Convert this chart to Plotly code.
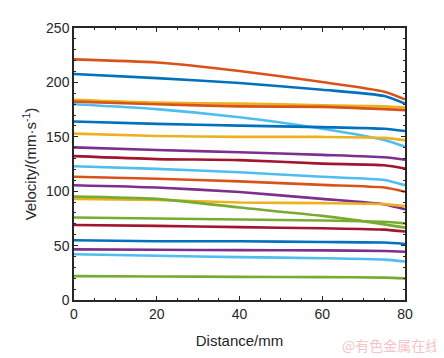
import plotly.graph_objects as go

distance = [0, 20, 40, 60, 75, 80]

s01 = [221.2, 218.3, 210.5, 200.3, 191.5, 184.4]
s02 = [207.7, 203.9, 199.4, 193.3, 187.5, 180.5]
s03 = [184.1, 181.4, 180.5, 179.0, 178.0, 176.9]
s04 = [182.3, 179.9, 178.0, 177.5, 175.4, 174.5]
s05 = [179.9, 175.4, 167.9, 157.4, 147.0, 140.9]
s06 = [164.0, 161.9, 160.3, 158.9, 157.4, 155.3]
s07 = [152.9, 150.8, 149.9, 149.9, 149.0, 146.9]
s08 = [140.3, 137.9, 135.8, 133.4, 131.2, 128.9]
s09 = [132.2, 129.5, 128.6, 125.3, 123.8, 120.8]
s10 = [122.9, 120.5, 117.4, 113.3, 110.3, 105.5]
s11 = [113.3, 111.5, 109.0, 105.8, 103.4, 99.5]
s12 = [105.5, 103.4, 99.2, 92.9, 87.9, 83.4]
s13 = [92.9, 92.0, 89.6, 89.0, 88.1, 86.3]
s14 = [95.0, 92.9, 85.0, 77.3, 69.5, 66.5]
s15 = [75.8, 74.9, 74.0, 73.1, 71.9, 70.4]
s16 = [69.0, 68.1, 67.0, 65.9, 64.7, 62.9]
s17 = [54.9, 54.0, 54.0, 53.3, 52.8, 51.5]
s18 = [46.5, 46.2, 45.8, 45.6, 45.0, 44.3]
s19 = [42.0, 40.7, 39.4, 38.4, 37.1, 35.4]
s20 = [21.9, 21.6, 21.3, 21.0, 20.6, 19.8]

series = [s01, s02, s03, s04, s05, s06, s07, s08, s09, s10,
          s11, s12, s13, s14, s15, s16, s17, s18, s19, s20]

BLUE = "#0072BD"; ORANGE = "#D95319"; YELLOW = "#EDB120"; PURPLE = "#7E2F8E"
GREEN = "#77AC30"; LBLUE = "#4DBEEE"; DRED = "#A2142F"
colors = [ORANGE, BLUE, YELLOW, ORANGE, LBLUE, BLUE, YELLOW, PURPLE, DRED, LBLUE,
          ORANGE, PURPLE, YELLOW, GREEN, GREEN, DRED, BLUE, PURPLE, LBLUE, GREEN]

fig = go.Figure()
for ys, c in zip(series, colors):
    fig.add_trace(go.Scatter(x=distance, y=ys, mode="lines",
                             line=dict(color=c, width=2.6, shape="spline", smoothing=0.6),
                             showlegend=False, hoverinfo="skip"))

axis_common = dict(showgrid=False, zeroline=False, showline=True, linecolor="#262626",
                   linewidth=1.5, mirror="allticks", ticks="inside", ticklen=4,
                   tickcolor="#262626", tickwidth=1.2,
                   tickfont=dict(family="Liberation Sans, Arial", size=14, color="#262626"))

fig.update_xaxes(range=[0, 80], dtick=20, tick0=0,
                 minor=dict(ticks="inside", dtick=5, ticklen=2, tickcolor="#262626"),
                 title=dict(text="Distance/mm", standoff=15,
                            font=dict(family="Liberation Sans, Arial", size=15, color="#262626")),
                 **axis_common)
fig.update_yaxes(range=[0, 250], dtick=50, tick0=0,
                 minor=dict(ticks="inside", dtick=10, ticklen=2, tickcolor="#262626"),
                 title=dict(text="Velocity/(mm·s<sup>-1</sup>)", standoff=6,
                            font=dict(family="Liberation Sans, Arial", size=15, color="#262626")),
                 **axis_common)

fig.add_annotation(text="@有色金属在线", xref="paper", yref="paper", x=1.11, y=-0.165,
                   xanchor="right", yanchor="middle", showarrow=False,
                   font=dict(family="Noto Sans CJK SC", size=14, color="#F5C4C4"))

fig.update_layout(width=444, height=358, plot_bgcolor="white", paper_bgcolor="white",
                  margin=dict(l=66, r=47, t=14, b=66))

fig.write_html("out.html")
